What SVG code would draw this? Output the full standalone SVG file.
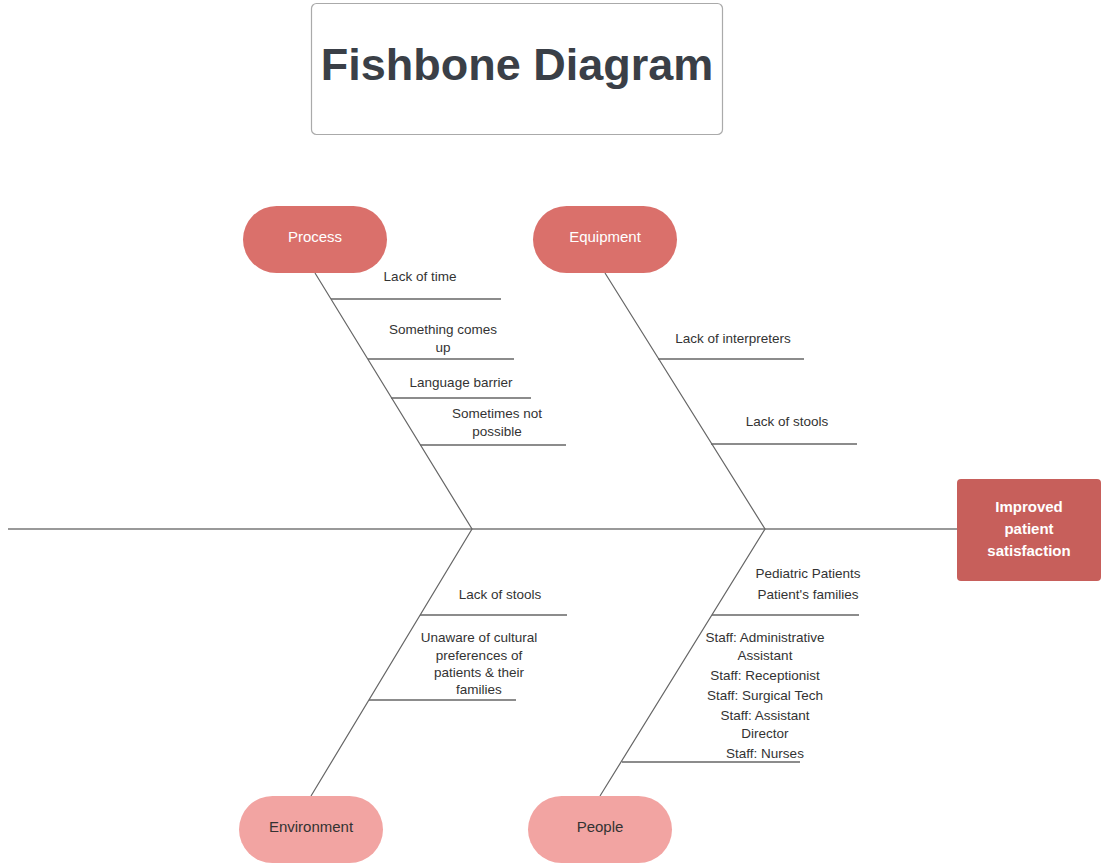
<svg xmlns="http://www.w3.org/2000/svg" width="1102" height="867" viewBox="0 0 1102 867">
<style>
.t{font-family:"Liberation Sans",Arial,sans-serif;font-size:13.5px;fill:#333;text-anchor:middle}
.n{font-family:"Liberation Sans",Arial,sans-serif;font-size:15px;text-anchor:middle}
.bone{stroke:#666;stroke-width:1.2;fill:none}
.rib{stroke:#666;stroke-width:1.4;fill:none}
</style>
<rect width="1102" height="867" fill="#fff"/>
<g id="title">
<rect x="311.5" y="3.5" width="411" height="131" rx="5" fill="#fff" stroke="#aaa" stroke-width="1.2"/>
<text x="517" y="80" font-family="Liberation Sans,Arial,sans-serif" font-size="45" font-weight="bold" fill="#3a3f47" text-anchor="middle">Fishbone Diagram</text>
</g>
<g id="connectors">
<line x1="8" y1="529" x2="957" y2="529" stroke="#999" stroke-width="2"/>
<polyline class="bone" points="315,273 472,529 311,796"/>
<polyline class="bone" points="605,273 765,529 600,796"/>
<line class="rib" x1="331" y1="299" x2="501" y2="299"/>
<line class="rib" x1="368" y1="359" x2="514" y2="359"/>
<line class="rib" x1="391" y1="398" x2="531" y2="398"/>
<line class="rib" x1="420" y1="445" x2="566" y2="445"/>
<line class="rib" x1="658" y1="359" x2="804" y2="359"/>
<line class="rib" x1="711" y1="444" x2="857" y2="444"/>
<line class="rib" x1="420" y1="615" x2="567" y2="615"/>
<line class="rib" x1="369" y1="700" x2="516" y2="700"/>
<line class="rib" x1="712" y1="615" x2="859" y2="615"/>
<line class="rib" x1="622" y1="762" x2="800" y2="762"/>
</g>
<g id="labels">
<text class="t" x="420" y="281">Lack of time</text>
<text class="t" x="443" y="334">Something comes</text>
<text class="t" x="443" y="352">up</text>
<text class="t" x="461" y="387">Language barrier</text>
<text class="t" x="497" y="418">Sometimes not</text>
<text class="t" x="497" y="436">possible</text>
<text class="t" x="733" y="343">Lack of interpreters</text>
<text class="t" x="787" y="426">Lack of stools</text>
<text class="t" x="500" y="599">Lack of stools</text>
<text class="t" x="479" y="642">Unaware of cultural</text>
<text class="t" x="479" y="660">preferences of</text>
<text class="t" x="479" y="677">patients &amp; their</text>
<text class="t" x="479" y="694">families</text>
<text class="t" x="808" y="578">Pediatric Patients</text>
<text class="t" x="808" y="599">Patient's families</text>
<text class="t" x="765" y="642">Staff: Administrative</text>
<text class="t" x="765" y="660">Assistant</text>
<text class="t" x="765" y="680">Staff: Receptionist</text>
<text class="t" x="765" y="700">Staff: Surgical Tech</text>
<text class="t" x="765" y="720">Staff: Assistant</text>
<text class="t" x="765" y="738">Director</text>
<text class="t" x="765" y="758">Staff: Nurses</text>
</g>
<g id="process">
<rect x="243" y="206" width="144" height="67" rx="33.5" fill="#da706b"/>
<text class="n" x="315" y="242" fill="#fff">Process</text>
</g>
<g id="equipment">
<rect x="533" y="206" width="144" height="67" rx="33.5" fill="#da706b"/>
<text class="n" x="605" y="242" fill="#fff">Equipment</text>
</g>
<g id="environment">
<rect x="239" y="796" width="144" height="67" rx="33.5" fill="#f2a4a2"/>
<text class="n" x="311" y="832" fill="#333">Environment</text>
</g>
<g id="people">
<rect x="528" y="796" width="144" height="67" rx="33.5" fill="#f2a4a2"/>
<text class="n" x="600" y="832" fill="#333">People</text>
</g>
<g id="effect">
<rect x="957" y="479" width="144" height="102" rx="4" fill="#c75f5b"/>
<text class="n" x="1029" y="512" fill="#fff" font-weight="bold" font-size="16">Improved</text>
<text class="n" x="1029" y="534" fill="#fff" font-weight="bold" font-size="16">patient</text>
<text class="n" x="1029" y="556" fill="#fff" font-weight="bold" font-size="16">satisfaction</text>
</g>
</svg>
